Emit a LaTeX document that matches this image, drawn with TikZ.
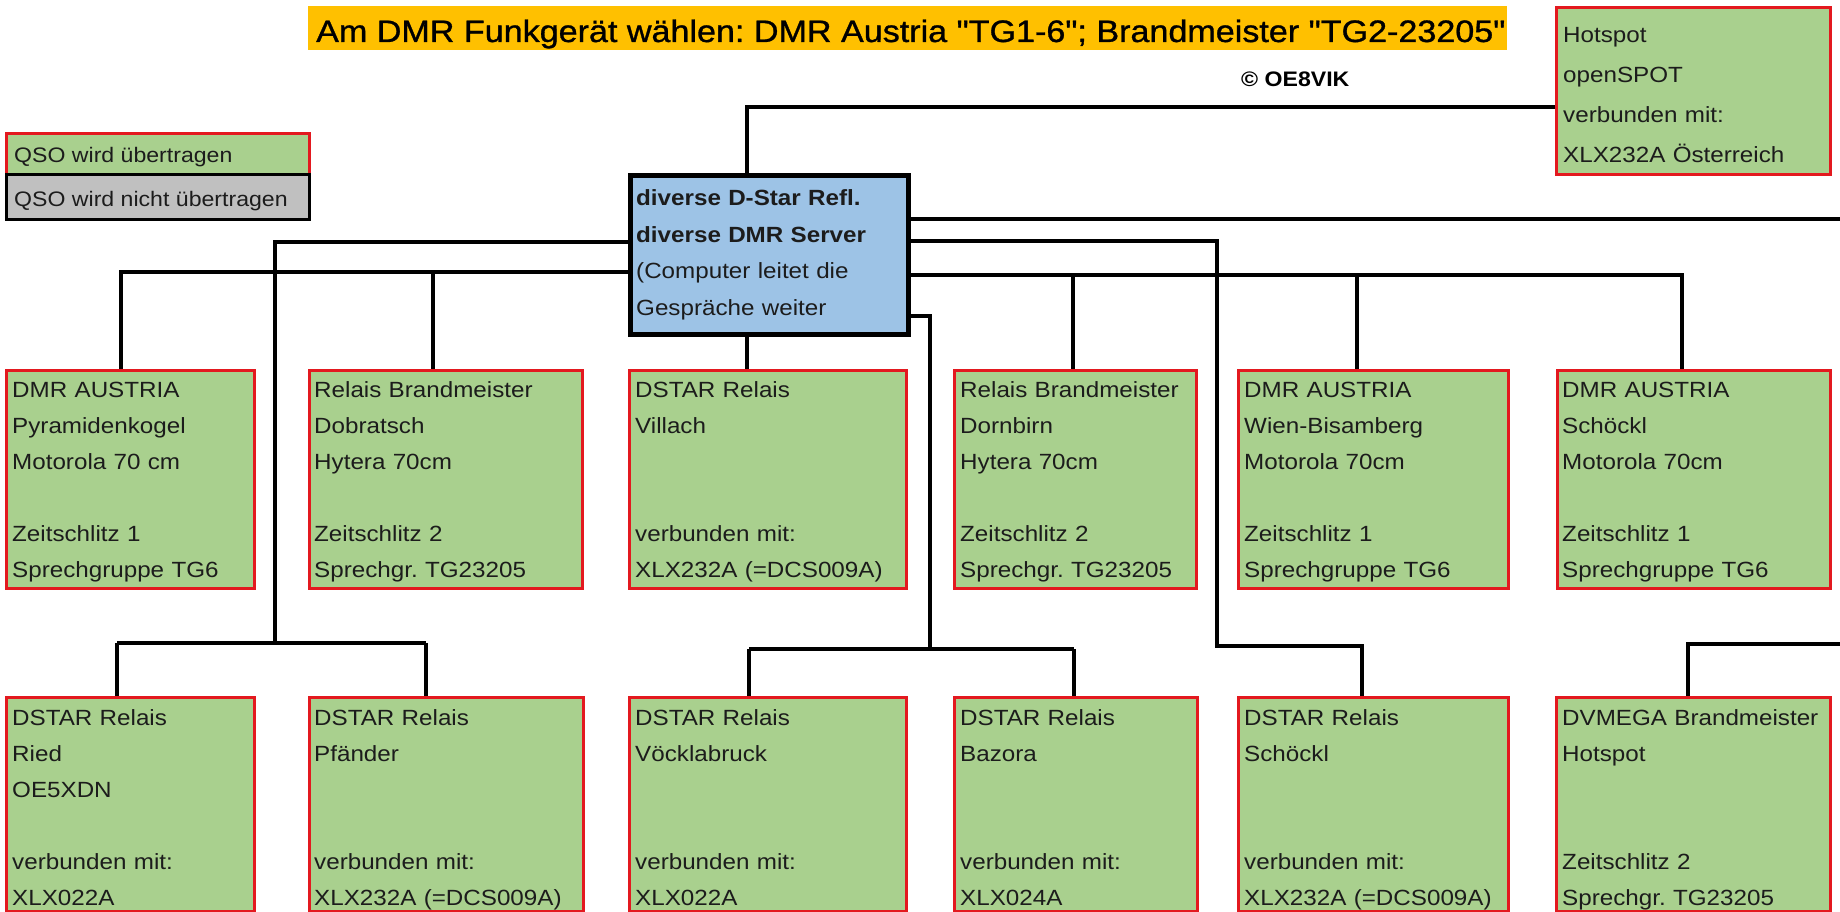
\documentclass[tikz,border=0pt]{standalone}
\usepackage{fontspec}
\setmainfont{Liberation Sans}[FakeStretch=1.1]
\newfontfamily\titlefont{Liberation Sans}[FakeStretch=1.1, Ligatures=TeXOff, FakeBold=1]
\definecolor{boxgreen}{HTML}{A9D08E}
\definecolor{boxred}{HTML}{E3191F}
\definecolor{hubblue}{HTML}{9DC3E6}
\definecolor{leggrey}{HTML}{C0C0C0}
\definecolor{bannerorange}{HTML}{FFC000}
\definecolor{ink}{HTML}{1C1C1C}
\tikzset{
  gbox/.style={draw=boxred, line width=2.8pt, fill=boxgreen, inner sep=0pt, anchor=north west},
  r1box/.style={gbox, minimum height=218pt},
  r2box/.style={gbox, minimum height=214pt},
  hubbox/.style={draw=black, line width=5pt, fill=hubblue, inner sep=0pt, anchor=north west},
  greybox/.style={draw=black, line width=2.8pt, fill=leggrey, inner sep=0pt, anchor=north west},
  btxt/.style={anchor=base west, inner sep=0pt, text width=290pt, align=left, text=ink, font=\fontsize{22}{36}\selectfont},
  legtxt/.style={anchor=base west, inner sep=0pt, text=ink, font=\fontsize{21}{21}\selectfont},
  conn/.style={draw=black, line width=3.2pt},
}
\begin{document}
\frenchspacing
\begin{tikzpicture}[x=1pt,y=-1pt]
\useasboundingbox (0,0) rectangle (1840,912);
\fill[white] (0,0) rectangle (1840,912);

% banner
\node[fill=bannerorange, inner sep=0pt, minimum width=1199pt, minimum height=44pt, anchor=north west] (banner) at (308,6) {};
\node[anchor=base west, inner sep=0pt, text=black, font=\titlefont\fontsize{31}{31}\selectfont] (title) at (316,42) {Am DMR Funkgerät wählen: DMR Austria "TG1-6"; Brandmeister "TG2-23205"};
\node[anchor=base west, inner sep=0pt, text=black, font=\fontsize{21}{21}\selectfont\bfseries] (copy) at (1241,87) {© OE8VIK};

% legend
\node[gbox, minimum width=303pt, minimum height=41pt] (legA) at (5,132) {};
\node[greybox, minimum width=303pt, minimum height=45pt] (legB) at (5,173) {};
\node[legtxt] (legAt) at (14,163) {QSO wird übertragen};
\node[legtxt] (legBt) at (14,207) {QSO wird nicht übertragen};

% hotspot
\node[gbox, minimum width=274pt, minimum height=167pt] (hot) at (1555,6) {};
\node[btxt, font=\fontsize{22}{40}\selectfont] (hott) at (1563,43) {Hotspot\\openSPOT\\verbunden mit:\\XLX232A Österreich};

% hub
\node[hubbox, minimum width=278pt, minimum height=159pt] (hub) at (628,173) {};
\node[btxt, font=\fontsize{22}{36.5}\selectfont] (hubt) at (636,206) {\textbf{diverse D-Star Refl.}\\\textbf{diverse DMR Server}\\(Computer leitet die\\Gespräche weiter};

% row 1
\node[r1box, minimum width=248pt] (r1a) at (5,369) {};
\node[r1box, minimum width=273pt] (r1b) at (308,369) {};
\node[r1box, minimum width=277pt] (r1c) at (628,369) {};
\node[r1box, minimum width=242pt] (r1d) at (953,369) {};
\node[r1box, minimum width=270pt] (r1e) at (1237,369) {};
\node[r1box, minimum width=273pt] (r1f) at (1556,369) {};
\node[btxt] (r1at) at (12,397) {DMR AUSTRIA\\Pyramidenkogel\\Motorola 70 cm\\\mbox{}\\Zeitschlitz 1\\Sprechgruppe TG6};
\node[btxt] (r1bt) at (314,397) {Relais Brandmeister\\Dobratsch\\Hytera 70cm\\\mbox{}\\Zeitschlitz 2\\Sprechgr. TG23205};
\node[btxt] (r1ct) at (635,397) {DSTAR Relais\\Villach\\\mbox{}\\\mbox{}\\verbunden mit:\\XLX232A (=DCS009A)};
\node[btxt] (r1dt) at (960,397) {Relais Brandmeister\\Dornbirn\\Hytera 70cm\\\mbox{}\\Zeitschlitz 2\\Sprechgr. TG23205};
\node[btxt] (r1et) at (1244,397) {DMR AUSTRIA\\Wien-Bisamberg\\Motorola 70cm\\\mbox{}\\Zeitschlitz 1\\Sprechgruppe TG6};
\node[btxt] (r1ft) at (1562,397) {DMR AUSTRIA\\Schöckl\\Motorola 70cm\\\mbox{}\\Zeitschlitz 1\\Sprechgruppe TG6};

% row 2
\node[r2box, minimum width=248pt] (r2a) at (5,696) {};
\node[r2box, minimum width=274pt] (r2b) at (308,696) {};
\node[r2box, minimum width=277pt] (r2c) at (628,696) {};
\node[r2box, minimum width=243pt] (r2d) at (953,696) {};
\node[r2box, minimum width=270pt] (r2e) at (1237,696) {};
\node[r2box, minimum width=274pt] (r2f) at (1555,696) {};
\node[btxt] (r2at) at (12,725) {DSTAR Relais\\Ried\\OE5XDN\\\mbox{}\\verbunden mit:\\XLX022A};
\node[btxt] (r2bt) at (314,725) {DSTAR Relais\\Pfänder\\\mbox{}\\\mbox{}\\verbunden mit:\\XLX232A (=DCS009A)};
\node[btxt] (r2ct) at (635,725) {DSTAR Relais\\Vöcklabruck\\\mbox{}\\\mbox{}\\verbunden mit:\\XLX022A};
\node[btxt] (r2dt) at (960,725) {DSTAR Relais\\Bazora\\\mbox{}\\\mbox{}\\verbunden mit:\\XLX024A};
\node[btxt] (r2et) at (1244,725) {DSTAR Relais\\Schöckl\\\mbox{}\\\mbox{}\\verbunden mit:\\XLX232A (=DCS009A)};
\node[btxt] (r2ft) at (1562,725) {DVMEGA Brandmeister\\Hotspot\\\mbox{}\\\mbox{}\\Zeitschlitz 2\\Sprechgr. TG23205};

% junction coordinates
\coordinate (h1) at (747,107);
\coordinate (eR1) at (1840,219);
\coordinate (j2) at (1217,241);
\coordinate (j2b) at (1217,646);
\coordinate (d2e) at (1362,646);
\coordinate (t3) at (1682,275);
\coordinate (t3d) at (1073,275);
\coordinate (t3e) at (1357,275);
\coordinate (j4) at (930,316);
\coordinate (j4b) at (930,649);
\coordinate (d2c) at (749,649);
\coordinate (d2d) at (1074,649);
\coordinate (jL) at (275,242);
\coordinate (jLb) at (275,643);
\coordinate (d2a) at (117,643);
\coordinate (d2b) at (426,643);
\coordinate (t7) at (121,272);
\coordinate (t7b) at (433,272);
\coordinate (eR2) at (1840,644);
\coordinate (d2f) at (1688,644);

% connectors
\draw[conn] (hot.west |- h1) -- (h1) -- (h1 |- hub.north);
\draw[conn] (hub.south -| h1) -- (r1c.north -| h1);
\draw[conn] (hub.east |- eR1) -- (eR1);
\draw[conn] (hub.east |- j2) -- (j2) -- (j2b) -- (d2e) -- (d2e |- r2e.north);
\draw[conn] (hub.east |- t3) -- (t3) -- (t3 |- r1f.north);
\draw[conn] (t3d) -- (t3d |- r1d.north);
\draw[conn] (t3e) -- (t3e |- r1e.north);
\draw[conn] (hub.east |- j4) -- (j4) -- (j4b);
\draw[conn] (d2c) -- (d2d);
\draw[conn] (d2c) -- (d2c |- r2c.north);
\draw[conn] (d2d) -- (d2d |- r2d.north);
\draw[conn] (hub.west |- jL) -- (jL) -- (jLb);
\draw[conn] (d2a) -- (d2b);
\draw[conn] (d2a) -- (d2a |- r2a.north);
\draw[conn] (d2b) -- (d2b |- r2b.north);
\draw[conn] (hub.west |- t7) -- (t7) -- (t7 |- r1a.north);
\draw[conn] (t7b) -- (t7b |- r1b.north);
\draw[conn] (eR2) -- (d2f) -- (d2f |- r2f.north);
\end{tikzpicture}
\end{document}
